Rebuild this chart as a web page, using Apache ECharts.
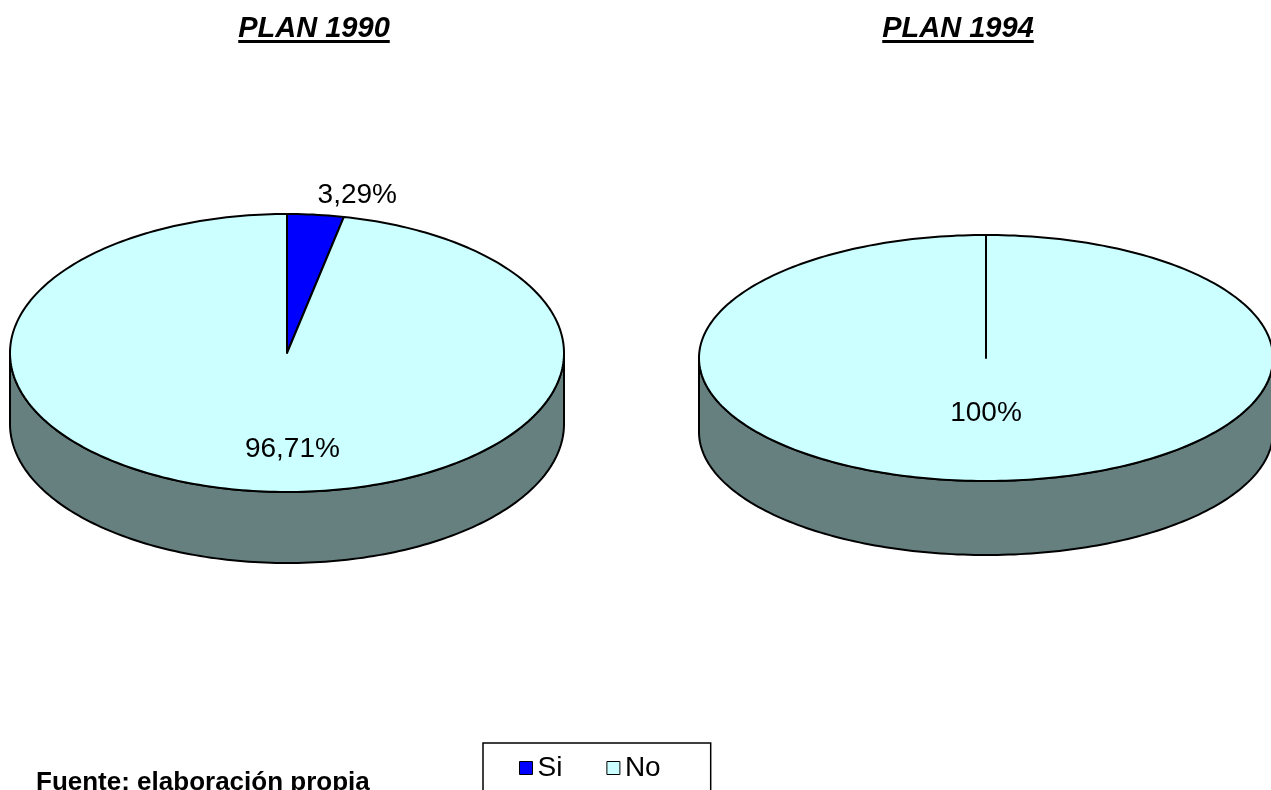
<!DOCTYPE html>
<html>
<head>
<meta charset="UTF-8">
<title>Plan 1990 - Plan 1994</title>
<script src="https://cdn.jsdelivr.net/npm/echarts@6/dist/echarts.min.js"></script>
<style>html,body{margin:0;padding:0;background:#fff;}</style>
</head>
<body>
<div id="chart" style="width:1271px;height:790px;"></div>
<script>
// data
var categories = ['Si', 'No'];
var plan1990 = [3.29, 96.71];
var plan1994 = [0, 100];
var titles = ['PLAN 1990', 'PLAN 1994'];
var source = 'Fuente: elaboración propia';

var FONT = 'Arial, "Liberation Sans", sans-serif';
var colors = { Si: '#0000FF', No: '#CCFFFF' };
var sideColor = '#668080';

// geometry of the two tilted pies
var pies = [
    { cx: 287, cy: 353, rx: 277, ry: 139, depth: 71, titleX: 314 },
    { cx: 986, cy: 358, rx: 287, ry: 123, depth: 74, titleX: 958 }
];

function fmt(v) {
    return (Math.round(v * 100) / 100).toString().replace('.', ',') + '%';
}

function makePie(values, geo, title) {
    var total = values.reduce(function (a, b) { return a + b; }, 0);
    var starts = [];
    var acc = 0;
    values.forEach(function (v) { starts.push(acc); acc += v; });

    function pt(th, dy) {
        return [geo.cx + geo.rx * Math.sin(th), geo.cy - geo.ry * Math.cos(th) + (dy || 0)];
    }
    function arc(a, b, dy) {
        var n = Math.max(2, Math.ceil(Math.abs(b - a) / 0.02));
        var out = [];
        for (var k = 0; k <= n; k++) out.push(pt(a + (b - a) * k / n, dy));
        return out;
    }

    return {
        type: 'custom',
        name: title,
        coordinateSystem: 'none',
        data: values.map(function (v, i) { return { name: categories[i], value: v }; }),
        renderItem: function (params, api) {
            var i = params.dataIndex;
            var v = api.value(0);
            if (!v) return null;
            var a0 = starts[i] / total * Math.PI * 2;
            var a1 = (starts[i] + v) / total * Math.PI * 2;
            var fill = colors[categories[i]];
            var children = [];

            // visible side wall (front half of the disc)
            var s0 = Math.max(a0, Math.PI / 2), s1 = Math.min(a1, Math.PI * 1.5);
            if (s1 > s0) {
                var side = arc(s0, s1, 0).concat(arc(s1, s0, geo.depth));
                children.push({
                    type: 'polygon', z2: 1,
                    shape: { points: side },
                    style: { fill: sideColor, stroke: '#000', lineWidth: 2, lineJoin: 'round' }
                });
            }

            // top face
            var top = [[geo.cx, geo.cy]].concat(arc(a0, a1, 0));
            children.push({
                type: 'polygon', z2: 2,
                shape: { points: top },
                style: { fill: fill, stroke: '#000', lineWidth: 2, lineJoin: 'round' }
            });

            // data label
            var mid = (a0 + a1) / 2;
            var share = v / total;
            var lbl;
            if (share < 0.1) {
                var e = pt(mid, 0);
                lbl = { x: e[0] + 2, y: e[1] - 5, align: 'left', va: 'bottom' };
            } else if (share < 1) {
                lbl = {
                    x: geo.cx + geo.rx * 0.3 * Math.sin(mid) + 14,
                    y: geo.cy - geo.ry * 0.7 * Math.cos(mid),
                    align: 'center', va: 'middle'
                };
            } else {
                lbl = { x: geo.cx, y: geo.cy + geo.ry * 0.45, align: 'center', va: 'middle' };
            }
            children.push({
                type: 'text', z2: 3,
                x: lbl.x, y: lbl.y,
                style: {
                    text: fmt(share * 100),
                    fill: '#000',
                    font: '28px ' + FONT,
                    align: lbl.align,
                    verticalAlign: lbl.va
                }
            });
            return { type: 'group', children: children };
        }
    };
}

// measure title widths for the underline
var ctx = document.createElement('canvas').getContext('2d');
var titleFont = 'italic bold 29px ' + FONT;
ctx.font = titleFont;

var graphics = [];
titles.forEach(function (t, i) {
    var w = ctx.measureText(t).width;
    graphics.push({
        type: 'text', left: pies[i].titleX - w / 2, top: 14,
        style: { text: t, font: titleFont, fill: '#000' }
    });
    graphics.push({
        type: 'rect',
        shape: { x: pies[i].titleX - w / 2, y: 40, width: w, height: 3 },
        style: { fill: '#000' }
    });
});
graphics.push({
    type: 'text', left: 36, top: 770,
    style: { text: source, font: 'bold 26px ' + FONT, fill: '#000' }
});

var series = [
    makePie(plan1990, pies[0], titles[0]),
    makePie(plan1994, pies[1], titles[1])
];
// legend-only entries
categories.forEach(function (c) {
    series.push({
        type: 'custom', name: c, coordinateSystem: 'none', data: [],
        itemStyle: { color: colors[c], borderColor: '#000', borderWidth: 1 },
        renderItem: function () { return null; }
    });
});

var chart = echarts.init(document.getElementById('chart'), null, { renderer: 'canvas' });
chart.setOption({
    backgroundColor: '#fff',
    animation: false,
    legend: {
        data: categories,
        left: 483, top: 743,
        orient: 'horizontal',
        icon: 'rect',
        itemWidth: 13, itemHeight: 13,
        itemGap: 44,
        padding: [11, 50, 30, 36],
        borderColor: '#000', borderWidth: 1.5,
        selectedMode: false,
        itemStyle: { borderColor: '#000', borderWidth: 1 },
        textStyle: { fontFamily: FONT, fontSize: 28, color: '#000' }
    },
    graphic: graphics,
    series: series
});
</script>
</body>
</html>
